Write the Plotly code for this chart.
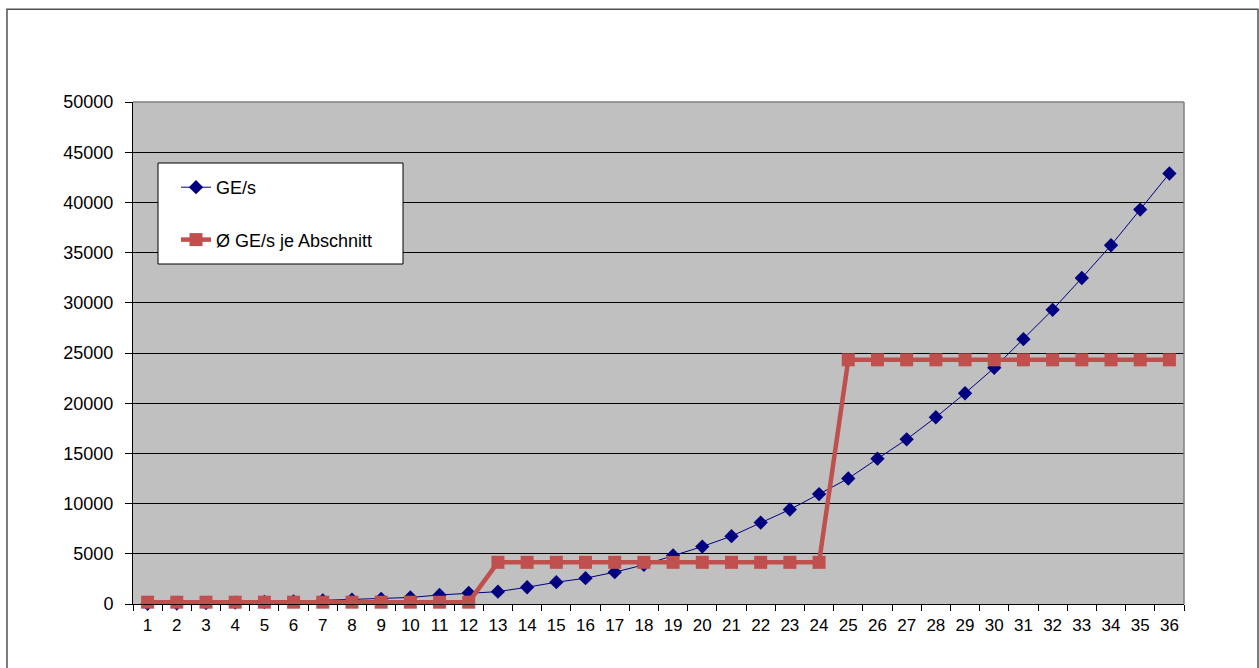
import plotly.graph_objects as go

periods = list(range(1, 37))
ge_per_s = [20, 50, 90, 140, 200, 270, 350, 430, 520, 650, 900, 1100,
            1230, 1670, 2170, 2570, 3170, 3900, 4830, 5720, 6760, 8110, 9410, 10950,
            12500, 14470, 16400, 18600, 20990, 23520, 26380, 29300, 32470, 35730, 39290, 42880]
avg_per_section = [180, 180, 180, 180, 180, 180, 180, 180, 180, 180, 180, 180,
                   4150, 4150, 4150, 4150, 4150, 4150, 4150, 4150, 4150, 4150, 4150, 4150,
                   24320, 24320, 24320, 24320, 24320, 24320, 24320, 24320, 24320, 24320, 24320, 24320]
y_ticks = list(range(0, 50001, 5000))

FONT = "Liberation Sans, Arial, sans-serif"
x_labels = [str(p) for p in periods]

fig = go.Figure()
fig.add_trace(go.Scatter(
    x=x_labels, y=ge_per_s, name="GE/s", mode="lines+markers",
    line=dict(color="#000080", width=1),
    marker=dict(symbol="diamond", size=11, color="#000080"),
    legendgroup="a", cliponaxis=False,
))
fig.add_trace(go.Scatter(
    x=x_labels, y=avg_per_section, name="Ø GE/s je Abschnitt", mode="lines+markers",
    line=dict(color="#C0504D", width=4.5),
    marker=dict(symbol="square", size=13, color="#C0504D"),
    legendgroup="b", cliponaxis=False,
))

fig.update_layout(
    width=1259, height=668,
    margin=dict(l=133, r=75, t=102, b=64),
    paper_bgcolor="white",
    plot_bgcolor="#C0C0C0",
    font=dict(family=FONT, size=18, color="black"),
    showlegend=True,
    legend=dict(
        x=(176 - 133) / 1051, y=(604 - 169) / 502, xanchor="left", yanchor="top",
        bgcolor="rgba(0,0,0,0)", borderwidth=0,
        font=dict(family=FONT, size=18, color="black"),
        traceorder="grouped", tracegroupgap=26,
    ),
    xaxis=dict(
        type="category", range=[-0.5, 35.5],
        tickson="boundaries", ticks="outside", ticklen=6, tickcolor="black",
        showline=True, linecolor="black", linewidth=1,
        showgrid=False, tickfont=dict(size=17), ticklabelstandoff=6,
    ),
    yaxis=dict(
        range=[0, 50000], tickvals=y_ticks, ticktext=[str(v) for v in y_ticks],
        ticks="outside", ticklen=7, tickcolor="black",
        showline=True, linecolor="black", linewidth=1,
        showgrid=True, gridcolor="black", gridwidth=1.2,
        zeroline=False, tickfont=dict(size=18), ticklabelstandoff=8,
    ),
    shapes=[
        dict(type="rect", xref="paper", yref="paper",
             x0=-0.1199, x1=1.0704, y0=-0.2, y1=1.185,
             line=dict(color="#505050", width=1.5), layer="below"),
        dict(type="line", xref="paper", yref="paper",
             x0=0, x1=1, y0=1, y1=1, line=dict(color="#808080", width=1.5)),
        dict(type="line", xref="paper", yref="paper",
             x0=1, x1=1, y0=0, y1=1, line=dict(color="#808080", width=1.5)),
        dict(type="rect", xref="paper", yref="paper",
             x0=(158 - 133) / 1051, x1=(403 - 133) / 1051,
             y0=(604 - 264) / 502, y1=(604 - 163) / 502,
             fillcolor="white", line=dict(color="black", width=1), layer="above"),
    ],
)

fig.write_html("out.html")
